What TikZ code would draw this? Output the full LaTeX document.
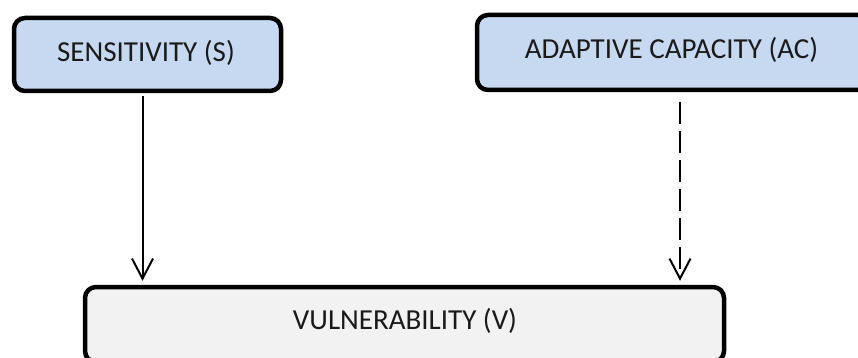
\documentclass[tikz,border=0pt]{standalone}
\usepackage{fontspec}
\setmainfont{Carlito}
\usetikzlibrary{arrows.meta}
\definecolor{boxblue}{HTML}{C6D9F1}
\definecolor{boxgrey}{HTML}{F2F2F2}
\definecolor{txt}{HTML}{1A1A1A}
\tikzset{
  box/.style={draw=black, line width=4.5pt, rounded corners=11pt, inner sep=0pt},
  lbl/.style={text=txt, font=\fontsize{29}{34}\selectfont, inner sep=0pt},
  arr/.style={line width=2pt, -{Straight Barb[length=20pt,width=21pt,line width=2pt]}},
}
\begin{document}
\begin{tikzpicture}[x=1pt,y=-1pt]
\useasboundingbox (0,0) rectangle (858,358);
\node[box, fill=boxblue, minimum width=267pt, minimum height=73pt] (s) at (147.5,54.5) {};
\node[lbl] (st) at (146,53) {SENSITIVITY (S)};
\node[box, fill=boxblue, minimum width=392pt, minimum height=75pt] (ac) at (673,52.5) {};
\node[lbl] (act) at (671.5,50) {ADAPTIVE CAPACITY (AC)};
\node[box, fill=boxgrey, minimum width=639pt, minimum height=75pt] (v) at (404.5,324.5) {};
\node[lbl] (vt) at (405,321) {VULNERABILITY (V)};
\draw[arr, shorten <=3pt, shorten >=4pt] ([xshift=-5pt]s.south) -- ([xshift=-5pt]s.south |- v.north);
\draw[arr, dash pattern=on 22pt off 7pt, shorten <=10pt, shorten >=4pt] ([xshift=7pt]ac.south) -- ([xshift=7pt]ac.south |- v.north);
\end{tikzpicture}
\end{document}
